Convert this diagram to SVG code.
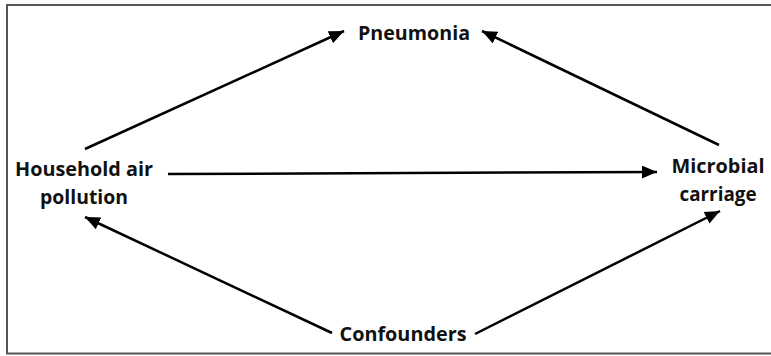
<svg xmlns="http://www.w3.org/2000/svg" width="771" height="356" viewBox="0 0 771 356">
<defs>
<marker id="ah" markerUnits="userSpaceOnUse" markerWidth="16" markerHeight="14" refX="15" refY="6.5" orient="auto">
<path d="M0,0 L15,6.5 L0,13 z" fill="#000"/>
</marker>
<style>
.lbl{font-family:"Open Sans","Liberation Sans",sans-serif;font-weight:bold;font-size:20px;fill:#111;text-anchor:middle}
.edge{stroke:#000;stroke-width:2.5;fill:none;marker-end:url(#ah)}
</style>
</defs>
<rect x="0" y="0" width="771" height="356" fill="#fff"/>
<rect x="7" y="5" width="775" height="348.5" fill="none" stroke="#555" stroke-width="2"/>
<g id="connectors">
<line class="edge" x1="85" y1="149" x2="344" y2="31"/>
<line class="edge" x1="719" y1="145" x2="482" y2="31"/>
<line class="edge" x1="168" y1="174" x2="657" y2="172"/>
<line class="edge" x1="332" y1="333" x2="85" y2="217"/>
<line class="edge" x1="475" y1="334" x2="720" y2="211"/>
</g>
<g id="pneumonia"><text class="lbl" x="414" y="40" textLength="112" lengthAdjust="spacingAndGlyphs">Pneumonia</text></g>
<g id="household"><text class="lbl" x="84" y="176" textLength="138" lengthAdjust="spacingAndGlyphs">Household air</text><text class="lbl" x="84" y="204" textLength="88" lengthAdjust="spacingAndGlyphs">pollution</text></g>
<g id="microbial"><text class="lbl" x="718" y="173" textLength="93" lengthAdjust="spacingAndGlyphs">Microbial</text><text class="lbl" x="718" y="201" textLength="77" lengthAdjust="spacingAndGlyphs">carriage</text></g>
<g id="confounders"><text class="lbl" x="403" y="341" textLength="127" lengthAdjust="spacingAndGlyphs">Confounders</text></g>
</svg>
